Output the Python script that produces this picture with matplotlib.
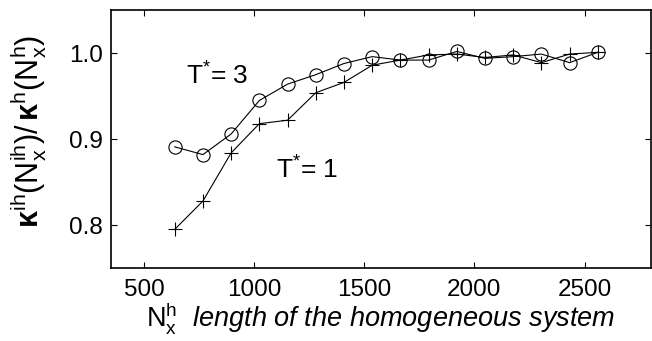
import matplotlib
matplotlib.use("Agg")
import matplotlib.pyplot as plt

plt.rcParams['font.family'] = ['Liberation Sans', 'DejaVu Sans']
plt.rcParams['mathtext.fontset'] = 'custom'
plt.rcParams['mathtext.rm'] = 'Liberation Sans'
plt.rcParams['mathtext.it'] = 'Liberation Sans:italic'
plt.rcParams['mathtext.bf'] = 'Liberation Sans:bold'

nx = [640, 768, 896, 1024, 1152, 1280, 1408, 1536, 1664, 1792, 1920, 2048, 2176, 2304, 2432, 2560]
ratio_T3 = [0.891, 0.882, 0.906, 0.945, 0.964, 0.975, 0.988, 0.996, 0.992, 0.992,
            1.002, 0.994, 0.996, 0.999, 0.989, 1.001]
ratio_T1 = [0.795, 0.828, 0.884, 0.918, 0.922, 0.954, 0.966, 0.986, 0.992, 0.998,
            0.999, 0.995, 0.998, 0.989, 0.999, 1.001]
xticks = [500, 1000, 1500, 2000, 2500]
yticks = [0.8, 0.9, 1.0]
ytick_labels = ['0.8', '0.9', '1.0']

fig = plt.figure(figsize=(6.52, 3.41), dpi=100)
ax = fig.add_axes([0.170, 0.214, 0.828, 0.756])

ax.plot(nx, ratio_T3, color='black', lw=0.8, marker='o', ms=9.5,
        mfc='none', mec='black', mew=0.8)
ax.plot(nx, ratio_T1, color='black', lw=0.8, marker='+', ms=10,
        mec='black', mew=0.8)

ax.set_xlim(350, 2800)
ax.set_ylim(0.75, 1.05)
ax.set_xticks(xticks)
ax.set_yticks(yticks)
ax.set_yticklabels(ytick_labels)
ax.tick_params(direction='in', length=4, width=0.8, top=True, right=True,
               labelsize=17.5)
ax.tick_params(axis='x', pad=8)
ax.tick_params(axis='y', pad=6)
for s in ax.spines.values():
    s.set_linewidth(1.2)

ax.text(692, 0.973, r'$\mathrm{T}^{*}$= 3', fontsize=19, va='center', ha='left')
ax.text(1100, 0.864, r'$\mathrm{T}^{*}$= 1', fontsize=19, va='center', ha='left')

ax.set_ylabel(r'$\mathbf{\kappa}^{\mathrm{ih}}\mathrm{(N_x^{ih})/\,}\mathbf{\kappa}^{\mathrm{h}}\mathrm{(N_x^{h})}$',
              fontsize=22)
ax.yaxis.set_label_coords(-0.115, 0.53)
ax.set_xlabel(r'$\mathrm{N_x^h}$  $\mathit{length\ of\ the\ homogeneous\ system}$',
              fontsize=19.5, labelpad=-1)

fig.savefig('out.png', dpi=100)
